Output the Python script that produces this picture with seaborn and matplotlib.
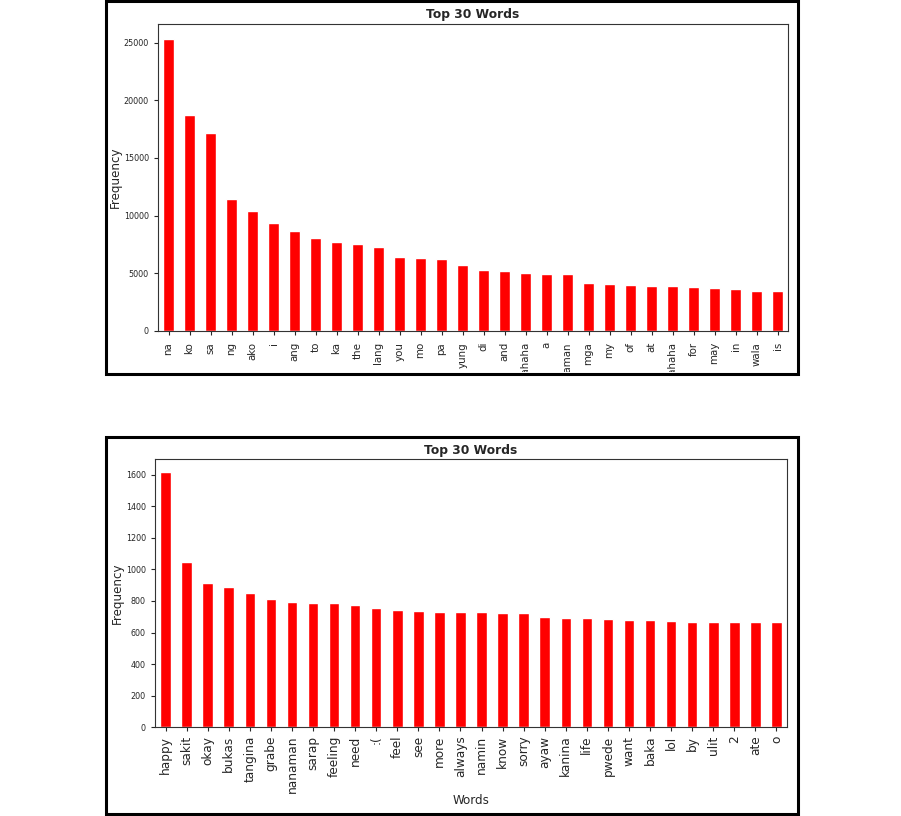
import numpy as np
import pandas as pd
import matplotlib
matplotlib.use('Agg')
import matplotlib.pyplot as plt
import seaborn as sns
from matplotlib.patches import Rectangle
from matplotlib.transforms import Bbox

# Top 30 words, first corpus
words_1 = ['na', 'ko', 'sa', 'ng', 'ako', 'i', 'ang', 'to', 'ka', 'the',
           'lang', 'you', 'mo', 'pa', 'yung', 'di', 'and', 'hahaha', 'a', 'naman',
           'mga', 'my', 'of', 'at', 'hahahaha', 'for', 'may', 'in', 'wala', 'is']
freq_1 = [25340, 18700, 17140, 11430, 10390, 9350, 8660, 8050, 7700, 7500,
          7270, 6400, 6290, 6230, 5710, 5280, 5220, 5000, 4980, 4940,
          4130, 4070, 3960, 3900, 3900, 3840, 3720, 3610, 3460, 3460]

# Top 30 words, second corpus
words_2 = ['happy', 'sakit', 'okay', 'bukas', 'tangina', 'grabe', 'nanaman', 'sarap', 'feeling', 'need',
           ':(', 'feel', 'see', 'more', 'always', 'namin', 'know', 'sorry', 'ayaw', 'kanina',
           'life', 'pwede', 'want', 'baka', 'lol', 'by', 'ulit', '2', 'ate', 'o']
freq_2 = [1616, 1048, 912, 887, 848, 815, 793, 787, 787, 777,
          756, 745, 736, 732, 730, 730, 726, 721, 700, 690,
          690, 686, 681, 681, 673, 669, 669, 669, 669, 667]

sns.set_style("ticks")
plt.rcParams['font.family'] = ['DejaVu Sans']

W, H = 901, 816
fig = plt.figure(figsize=(W / 100, H / 100), dpi=100)


def fig_rect(left, top, right, bottom):
    return [left / W, 1 - bottom / H, (right - left) / W, (bottom - top) / H]


def draw_box(left, top, right, bottom):
    fig.add_artist(Rectangle((left / W, 1 - bottom / H), (right - left) / W, (bottom - top) / H,
                             transform=fig.transFigure, fill=False, edgecolor='black', linewidth=2.2))


def word_chart(ax, words, freq, ytick_size, xtick_size, xpad, show_xlabel):
    df = pd.DataFrame({'word': words, 'freq': freq})
    sns.barplot(data=df, x='word', y='freq', color='red', saturation=1, width=0.5, ax=ax)
    ax.set_xlim(-0.5, len(words) - 0.5)
    ax.set_ylim(0, max(freq) * 1.05)
    ax.set_title('Top 30 Words', fontsize=8.8, fontweight='bold', pad=4)
    ax.set_ylabel('Frequency', fontsize=8.6, labelpad=1.5)
    ax.set_xlabel('Words' if show_xlabel else '', fontsize=8.6, labelpad=0.5)
    ax.tick_params(axis='y', labelsize=ytick_size, length=3, width=0.8)
    ax.tick_params(axis='x', labelsize=xtick_size, length=3, width=0.8, rotation=90, pad=xpad)
    for s in ax.spines.values():
        s.set_visible(True)
        s.set_linewidth(0.8)
        s.set_color('0.2')


# first chart
ax1 = fig.add_axes(fig_rect(158, 24, 788, 331))
word_chart(ax1, words_1, freq_1, 5.8, 7.4, 5, False)
# long tick labels are cut at the bottom of the box
clip = Bbox.from_extents(0, H - 372, W, H)
for lab in ax1.get_xticklabels():
    lab.set_clip_box(clip)
    lab.set_clip_on(True)
draw_box(105.5, 1.5, 798, 374)

# second chart
ax2 = fig.add_axes(fig_rect(155, 459.3, 787, 727.3))
word_chart(ax2, words_2, freq_2, 5.8, 8.7, 3, True)
draw_box(105.5, 437, 798, 813.5)

fig.savefig('out.png', dpi=100)
plt.close(fig)
